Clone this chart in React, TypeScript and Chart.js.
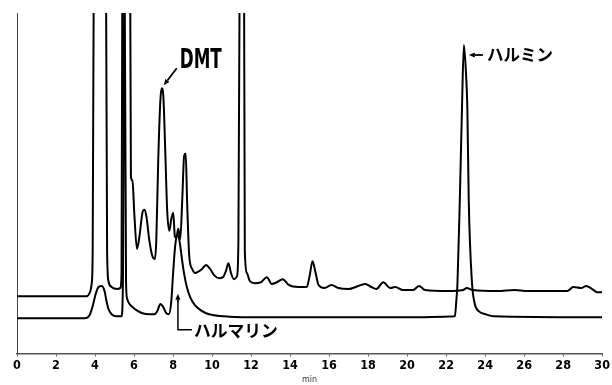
import React, { useEffect, useRef } from "react";
import { Chart, registerables } from "chart.js";

Chart.register(...registerables);

// Upper chromatogram trace (retention time in min, detector response, arbitrary units)
const timeUpper = [
  0, 3.57, 3.72, 3.83, 3.88, 3.95, 4.25, 4.55, 4.62, 4.69, 4.85, 5.15, 5.3, 5.36, 5.41, 5.61, 5.79,
  5.84, 5.92, 6.02, 6.15, 6.28, 6.43, 6.53, 6.63, 6.79, 6.94, 7.07, 7.14, 7.24, 7.35, 7.42, 7.5,
  7.6, 7.7, 7.81, 7.91, 8.01, 8.09, 8.16, 8.27, 8.37, 8.47, 8.57, 8.65, 8.72, 8.83, 8.98, 9.13,
  9.34, 9.49, 9.69, 9.9, 10.1, 10.36, 10.56, 10.71, 10.84, 10.97, 11.12, 11.28, 11.35, 11.43, 11.53,
  11.63, 11.68, 11.79, 11.94, 12.19, 12.5, 12.81, 13.06, 13.32, 13.62, 13.93, 14.44, 14.85, 15.0,
  15.15, 15.31, 15.46, 15.77, 16.12, 16.48, 16.99, 17.5, 17.86, 18.16, 18.42, 18.78, 19.13, 19.39,
  19.8, 20.31, 20.61, 20.92, 22.09, 22.86, 23.06, 23.37, 24.64, 25.51, 26.17, 28.21, 28.52, 28.93,
  29.18, 29.49, 29.74, 30,
];
const signalUpper = [
  16.8, 16.8, 17.7, 20.6, 30, 130, 170, 130, 30, 21.2, 19.5, 18.9, 19.2, 24, 130, 150, 130,
  52, 50.7, 40.4, 30.7, 34.5, 41.3, 42.2, 40.4, 33, 28.6, 27.7, 33, 56.6, 74.3, 77.9, 75.8,
  59.6, 41.9, 36, 39.5, 41.3, 34.5, 33.9, 36.6, 33.6, 44.8, 58.1, 58.7, 44.8, 28.6, 24.8, 23.6,
  24.2, 24.8, 26, 24.8, 23, 22.1, 22.4, 24.2, 26.5, 23.6, 21.8, 22.7, 33, 130, 150,
  130, 30, 23.6, 21.2, 20.6, 20.9, 22.4, 20.4, 20.9, 21.8, 20.1, 19.5, 19.5, 22.7,
  27.1, 23.6, 20.1, 19.2, 20.1, 19.2, 18.9, 19.8, 20.4, 19.5, 18.9, 20.9, 19.2, 19.5,
  18.6, 18.6, 19.8, 18.6, 18.3, 18.6, 19.2, 18.6, 18.3, 18.6, 18.3, 18.3, 19.5, 19.2,
  19.8, 18.9, 18, 18,
];

// Lower chromatogram trace
const timeLower = [
  0, 3.47, 3.72, 3.88, 4.03, 4.18, 4.34, 4.49, 4.59, 4.69, 4.85, 5.1, 5.36, 5.43, 5.51, 5.59, 5.64,
  5.77, 5.92, 6.12, 6.43, 6.79, 7.04, 7.19, 7.35, 7.5, 7.65, 7.78, 7.91, 8.01, 8.11, 8.21, 8.29,
  8.37, 8.47, 8.57, 8.72, 8.88, 9.08, 9.34, 9.69, 10.1, 10.87, 12.4, 19.54, 22.45, 22.52, 22.58,
  22.7, 22.81, 22.91, 23.01, 23.09, 23.16, 23.32, 23.47, 23.67, 24.03, 24.44, 30,
];
const signalLower = [
  10.3, 10.3, 11.2, 13.9, 17.4, 19.5, 19.8, 18.3, 15.3, 13, 11.5, 10.9, 10.9, 21.2, 120, 21.2, 16.2,
  14.5, 13.6, 12.7, 11.8, 11.5, 11.5, 12.4, 14.5, 13.6, 11.8, 11.5, 15.3, 24.2, 31.6, 34.8, 34.2,
  31.6, 27.1, 23.3, 19.2, 16.5, 14.5, 13, 11.8, 11.2, 10.8, 10.6, 10.6, 10.9, 15.3, 20.4,
  44.8, 71.4, 90.6, 83.2, 71.4, 44.8, 21.2, 14.5, 12.4, 11.5, 10.9, 10.6,
];

const xTickValues = [0, 2, 4, 6, 8, 10, 12, 14, 16, 18, 20, 22, 24, 26, 28, 30];

// Annotated peaks (retention time, response)
const peakDMT = { name: "DMT", x: 7.42, y: 77.9 };
const peakHarmine = { name: "ハルミン", x: 22.91, y: 90.6 };
const peakHarmaline = { name: "ハルマリン", x: 8.25, y: 17.5 };

const NARROW = "'Liberation Sans Narrow', 'DejaVu Sans Condensed', 'Arial Narrow', sans-serif";
const JP = "'Noto Sans CJK JP', 'Noto Sans CJK SC', sans-serif";

function arrow(ctx: CanvasRenderingContext2D, x1: number, y1: number, x2: number, y2: number) {
  const ang = Math.atan2(y2 - y1, x2 - x1);
  const len = 6;
  const w = 2.6;
  const bx = x2 - len * Math.cos(ang);
  const by = y2 - len * Math.sin(ang);
  ctx.beginPath();
  ctx.moveTo(x1, y1);
  ctx.lineTo(bx, by);
  ctx.stroke();
  ctx.beginPath();
  ctx.moveTo(x2, y2);
  ctx.lineTo(bx + w * Math.sin(ang), by - w * Math.cos(ang));
  ctx.lineTo(bx - w * Math.sin(ang), by + w * Math.cos(ang));
  ctx.closePath();
  ctx.fill();
}

const labelsPlugin = {
  id: "peakLabels",
  afterDatasetsDraw(chart: any) {
    const { ctx } = chart;
    const xs = chart.scales.x;
    const ys = chart.scales.y;
    ctx.save();
    ctx.strokeStyle = "#000";
    ctx.fillStyle = "#000";
    ctx.lineWidth = 1.8;
    ctx.lineCap = "butt";

    // DMT
    {
      const px = xs.getPixelForValue(peakDMT.x) + 2;
      const py = ys.getPixelForValue(peakDMT.y) - 3;
      arrow(ctx, px + 13, py - 17, px, py);
      ctx.font = `bold 27px ${NARROW}`;
      ctx.textBaseline = "alphabetic";
      ctx.textAlign = "left";
      const w = ctx.measureText(peakDMT.name).width;
      ctx.save();
      ctx.translate(px + 16, py - 17);
      ctx.scale(42 / w, 1);
      ctx.fillText(peakDMT.name, 0, 0);
      ctx.restore();
    }

    // Harmine
    {
      const px = xs.getPixelForValue(peakHarmine.x) + 5;
      const py = ys.getPixelForValue(peakHarmine.y) + 10;
      arrow(ctx, px + 14, py, px, py);
      ctx.font = `bold 17px ${JP}`;
      ctx.textBaseline = "middle";
      ctx.textAlign = "left";
      const w = ctx.measureText(peakHarmine.name).width;
      ctx.save();
      ctx.translate(px + 18, py);
      ctx.scale(66 / w, 1);
      ctx.fillText(peakHarmine.name, 0, 0);
      ctx.restore();
    }

    // Harmaline
    {
      const px = xs.getPixelForValue(peakHarmaline.x);
      const py = ys.getPixelForValue(peakHarmaline.y);
      ctx.lineWidth = 1.5;
      ctx.beginPath();
      ctx.moveTo(px + 14, py + 36);
      ctx.lineTo(px, py + 36);
      ctx.lineTo(px, py + 6);
      ctx.stroke();
      arrow(ctx, px, py + 8, px, py);
      ctx.font = `bold 17px ${JP}`;
      ctx.textBaseline = "middle";
      ctx.textAlign = "left";
      const w = ctx.measureText(peakHarmaline.name).width;
      ctx.save();
      ctx.translate(px + 16, py + 37);
      ctx.scale(84 / w, 1);
      ctx.fillText(peakHarmaline.name, 0, 0);
      ctx.restore();
    }
    ctx.restore();
  },
};

export default function App() {
  const ref = useRef<HTMLCanvasElement | null>(null);
  useEffect(() => {
    if (!ref.current) return;
    const upper = timeUpper.map((t, i) => ({ x: t, y: signalUpper[i] }));
    const lower = timeLower.map((t, i) => ({ x: t, y: signalLower[i] }));
    const chart = new Chart(ref.current, {
      type: "line",
      data: {
        datasets: [
          {
            label: "upper",
            data: upper,
            borderColor: "#000",
            borderWidth: 2,
            pointRadius: 0,
            fill: false,
            cubicInterpolationMode: "monotone",
          },
          {
            label: "lower",
            data: lower,
            borderColor: "#000",
            borderWidth: 2,
            pointRadius: 0,
            fill: false,
            cubicInterpolationMode: "monotone",
          },
        ],
      },
      options: {
        animation: false,
        responsive: false,
        devicePixelRatio: 1,
        layout: { padding: { left: 17, right: 7, top: 13, bottom: 0 } },
        plugins: { legend: { display: false }, tooltip: { enabled: false } },
        scales: {
          x: {
            type: "linear",
            min: 0,
            max: 30,
            afterBuildTicks: (scale: any) => {
              scale.ticks = xTickValues.map((v) => ({ value: v }));
            },
            border: { display: true, color: "#555", width: 1.5 },
            grid: { display: true, drawOnChartArea: false, drawTicks: true, tickLength: 3, color: "#555" },
            ticks: {
              color: "#000",
              padding: 2,
              maxRotation: 0,
              autoSkip: false,
              font: { family: NARROW, size: 12.5, weight: "bold" },
            },
            title: {
              display: true,
              text: "min",
              color: "#333",
              font: { family: "'DejaVu Sans', sans-serif", size: 8 },
              padding: { top: 0, bottom: 0 },
            },
          },
          y: {
            type: "linear",
            min: 0,
            max: 100,
            display: true,
            ticks: { display: false },
            grid: { display: false, drawTicks: false },
            border: { display: true, color: "#444", width: 1 },
          },
        },
      },
      plugins: [labelsPlugin],
    });
    return () => chart.destroy();
  }, []);
  return (
    <div style={{ position: "fixed", left: 0, top: 0, width: 612, height: 385, background: "#fff" }}>
      <canvas ref={ref} width={612} height={385} />
    </div>
  );
}
